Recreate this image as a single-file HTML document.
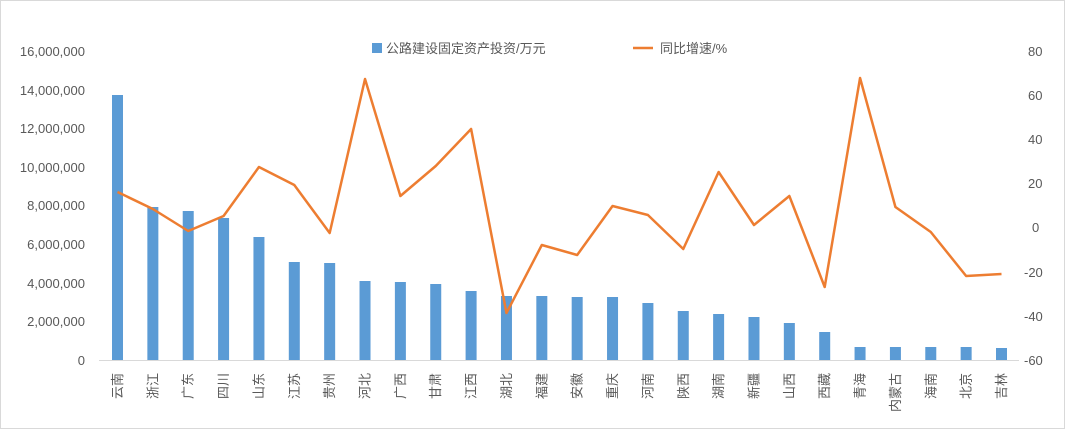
<!DOCTYPE html>
<html><head><meta charset="utf-8"><style>
body{margin:0;background:#fff}
svg{display:block;font-family:"Liberation Sans","Noto Sans CJK SC",sans-serif}
</style></head><body>
<svg width="1065" height="429" xmlns="http://www.w3.org/2000/svg">
<rect x="0.5" y="0.5" width="1064" height="428" fill="#fff" stroke="#d9d9d9"/>
<g font-size="13" fill="#595959" text-anchor="end">
<text x="85" y="365">0</text><text x="85" y="326">2,000,000</text><text x="85" y="288">4,000,000</text><text x="85" y="249">6,000,000</text><text x="85" y="210">8,000,000</text><text x="85" y="172">10,000,000</text><text x="85" y="133">12,000,000</text><text x="85" y="95">14,000,000</text><text x="85" y="56">16,000,000</text>
</g>
<g font-size="13" fill="#595959" text-anchor="start">
<text x="1028" y="56">80</text><text x="1028" y="100">60</text><text x="1028" y="144">40</text><text x="1028" y="188">20</text><text x="1032" y="232">0</text><text x="1024" y="277">-20</text><text x="1024" y="321">-40</text><text x="1024" y="365">-60</text>
</g>
<line x1="99" y1="360.5" x2="1019" y2="360.5" stroke="#d9d9d9"/>
<g fill="#5b9bd5">
<rect x="112" y="95" width="11" height="265"/>
<rect x="147.36" y="207" width="11" height="153"/>
<rect x="182.72" y="211" width="11" height="149"/>
<rect x="218.08" y="218" width="11" height="142"/>
<rect x="253.44" y="237" width="11" height="123"/>
<rect x="288.8" y="262" width="11" height="98"/>
<rect x="324.16" y="263" width="11" height="97"/>
<rect x="359.52" y="281" width="11" height="79"/>
<rect x="394.88" y="282" width="11" height="78"/>
<rect x="430.24" y="284" width="11" height="76"/>
<rect x="465.6" y="291" width="11" height="69"/>
<rect x="500.96" y="296" width="11" height="64"/>
<rect x="536.32" y="296" width="11" height="64"/>
<rect x="571.68" y="297" width="11" height="63"/>
<rect x="607.04" y="297" width="11" height="63"/>
<rect x="642.4" y="303" width="11" height="57"/>
<rect x="677.76" y="311" width="11" height="49"/>
<rect x="713.12" y="314" width="11" height="46"/>
<rect x="748.48" y="317" width="11" height="43"/>
<rect x="783.84" y="323" width="11" height="37"/>
<rect x="819.2" y="332" width="11" height="28"/>
<rect x="854.56" y="347" width="11" height="13"/>
<rect x="889.92" y="347" width="11" height="13"/>
<rect x="925.28" y="347" width="11" height="13"/>
<rect x="960.64" y="347" width="11" height="13"/>
<rect x="996" y="348" width="11" height="12"/>
</g>
<polyline fill="none" stroke="#ed7d31" stroke-width="2.5" stroke-linejoin="round" points="117.5,192 152.86,209 188.22,231 223.58,216 258.94,167 294.3,185 329.66,233 365.02,79 400.38,196 435.74,166 471.1,129 506.46,313 541.82,245 577.18,255 612.54,206 647.9,215 683.26,249 718.62,172 753.98,225 789.34,196 824.7,287 860.06,78 895.42,207 930.78,232 966.14,276 1001.5,274"/>
<g font-size="13" fill="#595959" text-anchor="end">
<text transform="translate(122,373) rotate(-90)">云南</text>
<text transform="translate(157.36,373) rotate(-90)">浙江</text>
<text transform="translate(192.72,373) rotate(-90)">广东</text>
<text transform="translate(228.08,373) rotate(-90)">四川</text>
<text transform="translate(263.44,373) rotate(-90)">山东</text>
<text transform="translate(298.8,373) rotate(-90)">江苏</text>
<text transform="translate(334.16,373) rotate(-90)">贵州</text>
<text transform="translate(369.52,373) rotate(-90)">河北</text>
<text transform="translate(404.88,373) rotate(-90)">广西</text>
<text transform="translate(440.24,373) rotate(-90)">甘肃</text>
<text transform="translate(475.6,373) rotate(-90)">江西</text>
<text transform="translate(510.96,373) rotate(-90)">湖北</text>
<text transform="translate(546.32,373) rotate(-90)">福建</text>
<text transform="translate(581.68,373) rotate(-90)">安徽</text>
<text transform="translate(617.04,373) rotate(-90)">重庆</text>
<text transform="translate(652.4,373) rotate(-90)">河南</text>
<text transform="translate(687.76,373) rotate(-90)">陕西</text>
<text transform="translate(723.12,373) rotate(-90)">湖南</text>
<text transform="translate(758.48,373) rotate(-90)">新疆</text>
<text transform="translate(793.84,373) rotate(-90)">山西</text>
<text transform="translate(829.2,373) rotate(-90)">西藏</text>
<text transform="translate(864.56,373) rotate(-90)">青海</text>
<text transform="translate(899.92,373) rotate(-90)">内蒙古</text>
<text transform="translate(935.28,373) rotate(-90)">海南</text>
<text transform="translate(970.64,373) rotate(-90)">北京</text>
<text transform="translate(1006,373) rotate(-90)">吉林</text>
</g>
<rect x="372" y="43" width="10" height="10" fill="#5b9bd5"/>
<text x="386" y="53" font-size="13" fill="#595959">公路建设固定资产投资/万元</text>
<line x1="633" y1="48" x2="653" y2="48" stroke="#ed7d31" stroke-width="2.5"/>
<text x="660" y="53" font-size="13" fill="#595959">同比增速/%</text>
</svg>
</body></html>
